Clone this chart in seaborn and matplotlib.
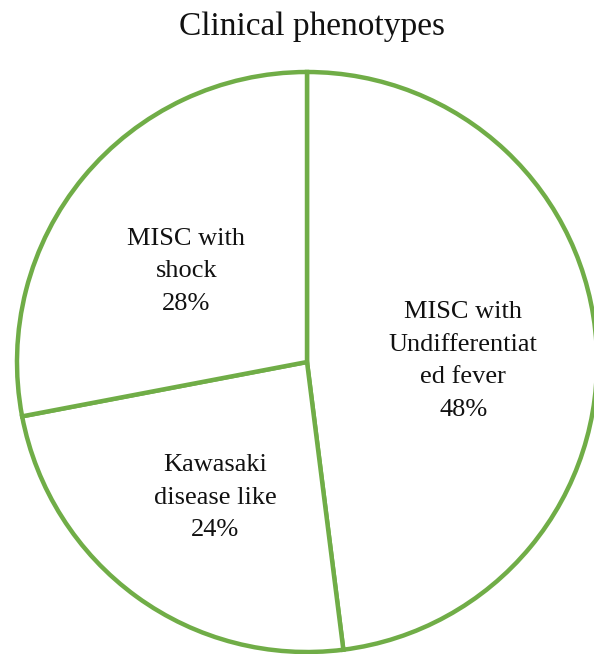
import matplotlib
matplotlib.use('Agg')
import matplotlib.pyplot as plt
import seaborn as sns

categories = ['MISC with\nUndifferentiat\ned fever', 'Kawasaki\ndisease like', 'MISC with\nshock']
shares = [48, 24, 28]
title = 'Clinical phenotypes'

sns.set_theme(style='white')
plt.rcParams['font.family'] = ['Liberation Serif', 'DejaVu Serif']

green = '#70AD47'
labels = [f'{c}\n{s}%' for c, s in zip(categories, shares)]

fig = plt.figure(figsize=(5.94, 6.54), dpi=100)
ax = fig.add_axes([0, 0, 1, 1])
wedges, texts = ax.pie(shares, labels=labels, startangle=90, counterclock=False,
                       colors=['white'] * 3, labeldistance=0.54,
                       wedgeprops=dict(edgecolor=green, linewidth=3.2),
                       textprops=dict(ha='center', va='center', fontsize=19,
                                      color='#111111', linespacing=1.62))
for w in wedges:
    w.set_clip_on(False)

# pie radius 1 -> 290 px, centre at (307, 362) px from top-left
r = 290.0
# nudge labels down a little so they sit like the original
for t in texts:
    x, y = t.get_position()
    t.set_position((x, y - 9 / r))

ax.set_xlim(-307 / r, (594 - 307) / r)
ax.set_ylim(-(654 - 362) / r, 362 / r)
ax.set_aspect('auto')
ax.axis('off')

fig.text(0.525, 1 - 27 / 654, title, ha='center', va='center', fontsize=24, color='#111111')

plt.savefig('out.png', dpi=100)
